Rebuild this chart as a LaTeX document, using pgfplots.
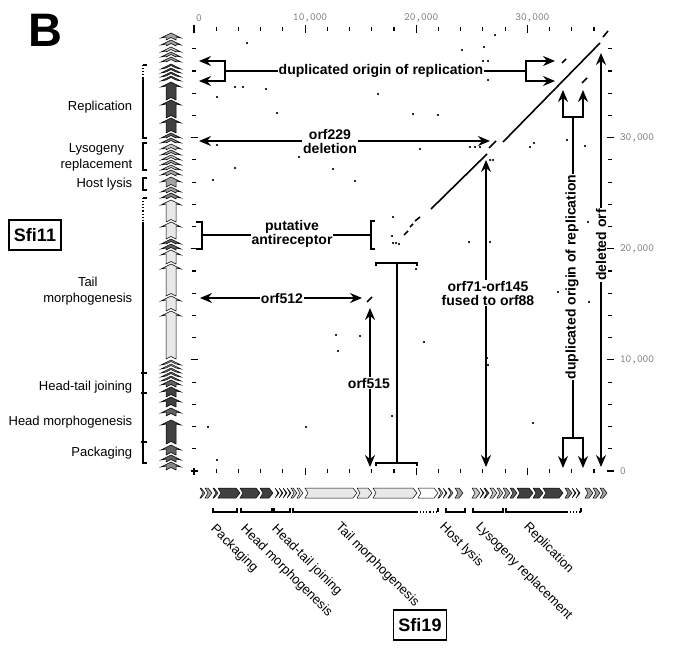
\documentclass[border=0pt]{standalone}
\usepackage{pgfplots}
\pgfplotsset{compat=1.18}
\usetikzlibrary{arrows.meta}
\usepackage{fontspec}
\setmainfont{Liberation Sans}

\definecolor{gvd}{gray}{0.25}
\definecolor{gd}{gray}{0.38}
\definecolor{gm}{gray}{0.52}
\definecolor{gg}{gray}{0.64}
\definecolor{gl}{gray}{0.78}
\definecolor{gvl}{gray}{0.91}

\newcommand\tickfont{\fontsize{11}{11}\selectfont\ttfamily\addfontfeatures{LetterSpace=32}}
\newcommand\lab{\fontsize{13}{15.5}\selectfont}
\newcommand\ann{\fontsize{14}{14}\selectfont\bfseries}

% gene arrows (px units, y downwards)
\newcommand\vgene[3]{\filldraw[fill=#3,draw=black,line width=0.5pt]
  (166,#1) -- (166,#2+4) -- (161,#2+5) -- (171,#2) -- (181,#2+5) -- (176,#2+4)
  -- (176,#1) -- (171,#1-2.5) -- cycle;}
\newcommand\hgene[3]{\filldraw[fill=#3,draw=black,line width=0.5pt]
  (#1,488) -- (#2-4,488) -- (#2,493) -- (#2-4,498) -- (#1,498) -- (#1+3,493) -- cycle;}

\begin{document}
\begin{tikzpicture}
\useasboundingbox (0pt,0pt) rectangle (694pt,-656pt);

\begin{axis}[
  at={(194pt,-471pt)}, anchor=south west,
  scale only axis, width=416pt, height=442pt,
  xmin=0, xmax=37440, ymin=0, ymax=39780,
  separate axis lines, axis line style={draw=none},
  scaled ticks=false,
  xtick={0,10000,20000,30000},
  minor xtick={2000,4000,6000,8000,12000,14000,16000,18000,22000,24000,26000,28000,32000,34000,36000},
  ytick={0,10000,20000,30000},
  minor ytick={2000,4000,6000,8000,12000,14000,16000,18000,22000,24000,26000,28000,32000,34000,36000,38000},
  xticklabels={0,{10,000},{20,000},{30,000}},
  yticklabels={0,{10,000},{20,000},{30,000}},
  xticklabel pos=upper, yticklabel pos=right,
  tick align=center, major tick length=7pt, minor tick length=4pt,
  tick style={black, line width=1.1pt},
  xticklabel style={font=\tickfont, text=black!55, xshift=5pt},
  yticklabel style={font=\tickfont, text=black!55, xshift=3pt},
]
% stray matches
\addplot[only marks, mark=*, mark size=0.75pt, black] coordinates {
(4770,38520)(3690,34560)(4410,34560)(6480,34380)(2070,33660)(7470,32220)
(2070,29340)(9450,28260)(3690,27270)(12510,27180)(1710,26190)(27090,39240)
(24120,37890)(26100,38160)(26010,36900)(26460,36900)(26460,35190)(16560,33930)
(19710,32130)(21960,32040)(20340,28980)(24840,29160)(25290,29160)(25740,29160)
(30240,29160)(30600,29520)(33570,29790)(35190,29250)(26640,27990)(26910,27990)
(14490,26100)(12060,22140)(12780,12240)(12960,10800)(1260,3960)(10080,3960)
(2070,990)(17910,22860)(24750,20610)(26640,20610)(19980,18180)(32760,16110)
(35460,22410)(35550,15210)(14940,12150)(20700,11610)(26370,10170)(26460,9540)
(17820,4950)(30510,4320)(17820,21150)(17910,20520)(18180,20520)(18450,20430)
};
% collinear segments
\addplot[black, line width=1.6pt] coordinates {(21330,23580)(26370,28530)};
\addplot[black, line width=1.6pt] coordinates {(26550,29070)(27180,29700)};
\addplot[black, line width=1.6pt] coordinates {(27810,29610)(36540,38520)};
\addplot[black, line width=1.6pt] coordinates {(36810,39060)(37260,39600)};
\addplot[black, line width=1.6pt] coordinates {(33120,36720)(33480,37080)};
\addplot[black, line width=1.6pt] coordinates {(34920,34920)(35370,35370)};
\addplot[black, line width=1.6pt] coordinates {(19890,22500)(20340,22860)};
\addplot[black, line width=1.6pt] coordinates {(19440,21960)(19710,22230)};
\addplot[black, line width=1.6pt] coordinates {(18900,21240)(19260,21600)};
\addplot[black, line width=1.6pt] coordinates {(15570,15210)(16020,15660)};
\end{axis}

\begin{scope}[x=1pt,y=-1pt, line width=1.6pt, >={Stealth[length=12pt,width=10pt,inset=4pt]}]
\node[font=\fontsize{47}{47}\selectfont\bfseries] at (45,30) {B};

% gene map Sfi11 (vertical)
\foreach \a/\b/\c in {40/33/gg,46/40/gg,52/47/gl,57/52/gg,62/57/gg,68/64/gd,72/68/gd,76/72/gd,80/76/gd,
  100/82/gvd,118/100/gvd,133/118/gvd,138/133/gd,143/138/gm,150/144/gl,155/150/gg,160/155/gl,165/160/gg,
  170/165/gl,176/170/gg,187/177/gg,193/187/gg,199/193/gm,222/200/gvl,239/222/gvl,244/239/gd,250/244/gd,
  264/250/gvl,296/264/gvl,311/296/gvl,359/311/gvl,364/360/gl,368/364/gl,372/368/gg,376/372/gm,380/376/gm,
  387/380/gd,397/387/gvd,407/397/gvd,416/408/gd,444/420/gvd,455/445/gd,462/455/gd,470/462/gm}
  {\vgene{\a}{\b}{\c}}

% gene map Sfi19 (horizontal)
\foreach \a/\b/\c in {200/205/gg,205/212/gg,213/218/gd,218/240/gvd,240/260/gvd,260/273/gvd,275/279/gm,
  279/283/gm,283/287/gm,287/291/gg,291/297/gl,297/303/gvl,305/357/gvl,357/372/gvl,373/417/gvl,418/438/white,
  438/443/gvl,443/447/gl,448/453/gg,455/463/gg,472/480/gl,480/484/gd,484/489/gd,490/497/gl,497/503/gl,
  503/510/gg,510/517/gd,517/533/gvd,533/543/gvd,543/563/gvd,565/572/gm,572/576/gd,576/580/gd,585/593/gg,
  593/600/gg,600/607/gg}
  {\hgene{\a}{\b}{\c}}

% left module brackets
\begin{scope}[line width=1.1pt]
\draw[dotted] (143,65) -- (143,78);
\draw (147,65) -- (143,65);
\draw (143,78) -- (143,138) -- (147,138);
\draw (147,143) -- (143,143) -- (143,170) -- (147,170);
\draw (147,178) -- (143,178) -- (143,190) -- (147,190);
\draw[dotted] (143,198) -- (143,222);
\draw (147,198) -- (143,198);
\draw (143,222) -- (143,463) -- (147,463);
\draw (141,373) -- (147,373);
\draw (141,393) -- (147,393);
\draw (141,442) -- (147,442);
% bottom module brackets
\draw (213,508) -- (213,512) -- (237,512) -- (237,508);
\draw (241,508) -- (241,512) -- (272,512) -- (272,508);
\draw (274,508) -- (274,512) -- (290,512) -- (290,508);
\draw (293,508) -- (293,512) -- (417,512);
\draw[dotted] (417,512) -- (438,512);
\draw (438,512) -- (438,508);
\draw (446,508) -- (446,512) -- (465,512) -- (465,508);
\draw (473,508) -- (473,512) -- (503,512) -- (503,508);
\draw (506,508) -- (506,512) -- (567,512);
\draw[dotted] (567,512) -- (581,512);
\draw (581,512) -- (581,508);
\end{scope}

% module labels
\begin{scope}[every node/.style={font=\lab, inner sep=0pt}]
\node[anchor=east, align=center] at (133,107) {Replication};
\node[anchor=east, align=center] at (133,157.5) {Lysogeny\\replacement};
\node[anchor=east, align=center] at (133,184) {Host lysis};
\node[anchor=east, align=center] at (133,291) {Tail\\morphogenesis};
\node[anchor=east, align=center] at (133,387) {Head-tail joining};
\node[anchor=east, align=center] at (133,422) {Head morphogenesis};
\node[anchor=east, align=center] at (133,453) {Packaging};
\node[rotate=-45, anchor=north west] at (217,522) {Packaging};
\node[rotate=-45, anchor=north west] at (247,522) {Head morphogenesis};
\node[rotate=-45, anchor=north west] at (278,522) {Head-tail joining};
\node[rotate=-45, anchor=north west] at (342,520) {Tail morphogenesis};
\node[rotate=-45, anchor=north west] at (446,520) {Host lysis};
\node[rotate=-45, anchor=north west] at (482,520) {Lysogeny replacement};
\node[rotate=-45, anchor=north west] at (530,520) {Replication};
\end{scope}

% genome names
\node[draw, line width=1.3pt, font=\fontsize{18}{18}\selectfont\bfseries, minimum height=30pt, inner xsep=5pt] at (35,235) {Sfi11};
\node[draw, line width=1.3pt, font=\fontsize{18}{18}\selectfont\bfseries, minimum height=30pt, inner xsep=5pt] at (420,625) {Sfi19};

% annotations
\draw (225,71) -- (526,71);
\draw[<->] (199,61) -- (225,61) -- (225,81) -- (199,81);
\draw[<->] (555,61) -- (526,61) -- (526,81) -- (555,81);
\node[fill=white, inner sep=1pt, font=\ann] at (381,71) {duplicated origin of replication};

\draw[<->] (199,141) -- (490,141);
\node[fill=white, inner sep=1pt, align=center, font=\ann] at (330,141) {orf229\\deletion};

\draw (202,235) -- (371,235);
\draw (196,222) -- (202,222) -- (202,249) -- (196,249);
\draw (375,221) -- (371,221) -- (371,249) -- (375,249);
\node[fill=white, inner sep=1pt, align=center, font=\ann] at (292,234) {putative\\antireceptor};

\draw[<->] (200,298) -- (362,298);
\node[fill=white, inner sep=1pt, font=\ann] at (282,298) {orf512};

\draw (376,266) -- (376,263) -- (417,263) -- (417,266);
\draw (397,263) -- (397,463);
\draw (376,466) -- (376,463) -- (417,463) -- (417,466);

\draw[<->] (370,308) -- (370,467);
\node[fill=white, inner sep=1pt, font=\ann] at (369,383) {orf515};

\draw[<->] (486,160) -- (486,467);
\node[fill=white, inner sep=1pt, align=center, font=\ann] at (488,293) {orf71-orf145\\fused to orf88};

\draw[<->] (563,90) -- (563,117) -- (583,117) -- (583,90);
\draw (573,117) -- (573,438);
\draw[<->] (563,468) -- (563,438) -- (583,438) -- (583,468);
\node[fill=white, inner sep=1pt, rotate=90, font=\ann] at (572,277) {duplicated origin of replication};

\draw[<->] (601,53) -- (601,467);
\node[fill=white, inner sep=1pt, rotate=90, font=\ann] at (601,245) {deleted orf};
\end{scope}
\end{tikzpicture}
\end{document}
